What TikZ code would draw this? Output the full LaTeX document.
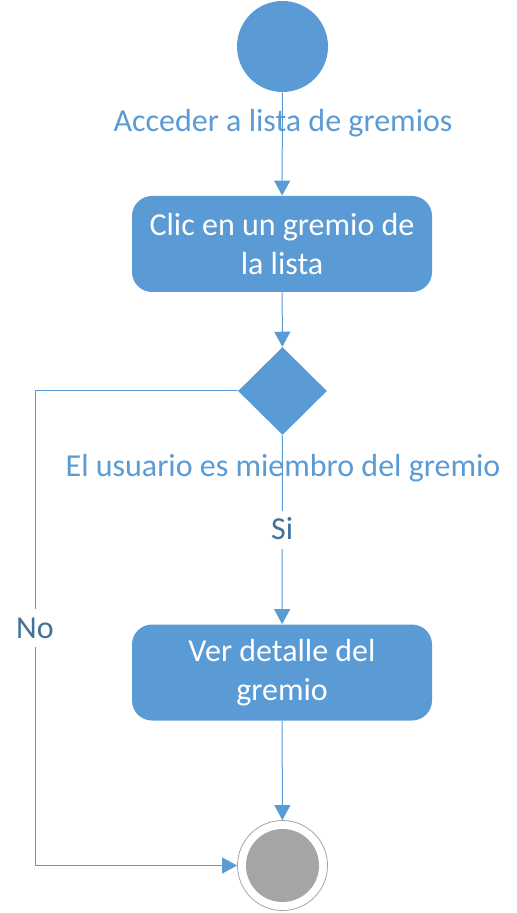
\documentclass[tikz,border=0pt]{standalone}
\usepackage{fontspec}
\setmainfont{Carlito}
\usetikzlibrary{shapes.geometric,arrows.meta}
\definecolor{umlblue}{HTML}{5B9BD5}
\definecolor{umldark}{HTML}{41719C}
\definecolor{umlgray}{HTML}{A5A5A5}
\begin{document}
\begin{tikzpicture}[x=0.5pt,y=-0.5pt,
	font=\fontsize{16}{19.5}\selectfont,
	act/.style={fill=umlblue,rounded corners=10pt,minimum width=150pt,minimum height=48pt,text=white,align=center,inner sep=0pt},
	flow/.style={draw=umlblue,line width=0.5pt,-{Triangle[width=8pt,length=7.5pt]}},
	guard/.style={text=umlblue,anchor=base,inner sep=0pt},
	branch/.style={text=umldark,fill=white,text height=13pt,text depth=3pt,inner sep=1.5pt}]
	\useasboundingbox (0,0) rectangle (516,913);
	% nodes
	\node [circle,fill=umlblue,minimum size=45.5pt,inner sep=0pt] (start) at (282.5,46.5) {};
	\node [act] (clic) at (282,244) {Clic en un gremio de\\la lista};
	\node [diamond,fill=umlblue,minimum width=44.5pt,minimum height=44pt,inner sep=0pt] (dec) at (282.5,391) {};
	\node [act] (ver) at (282,672.5) {Ver detalle del\\gremio};
	\node [circle,draw=umlgray,line width=0.4pt,fill=white,minimum size=45pt,inner sep=0pt] (endo) at (282.5,865.5) {};
	\node [circle,fill=umlgray,minimum size=36.5pt,inner sep=0pt] (endi) at (endo) {};
	% guards
	\node [guard] (accLbl) at (283,132) {Acceder a lista de gremios};
	\node [guard] (usrLbl) at (283,476) {El usuario es miembro del gremio};
	% flows
	\draw [flow] (start) -- (clic);
	\draw [flow] (clic) -- (dec);
	\draw [flow] (dec) -- node [branch] (siLbl) {Si} (ver);
	\draw [flow] (ver) -- (endo);
	\coordinate (noCorner) at (35,391);
	\draw [flow] (dec.west) -- (noCorner) |- node [branch,pos=0.25] (noLbl) {No} (endo.west);
\end{tikzpicture}
\end{document}
